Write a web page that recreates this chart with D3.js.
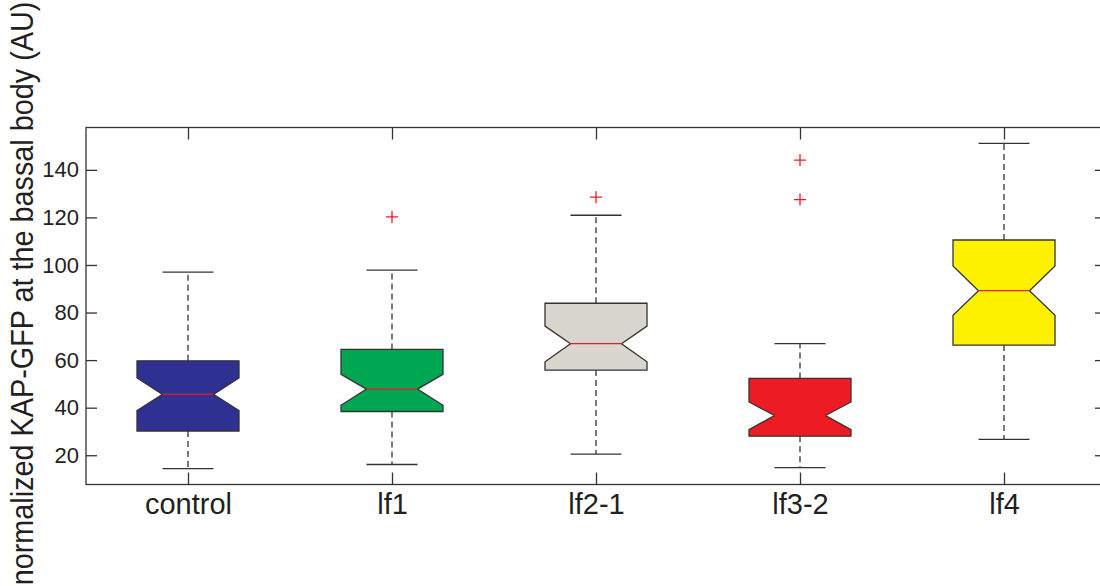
<!DOCTYPE html>
<html><head><meta charset="utf-8">
<script src="https://cdn.jsdelivr.net/npm/d3@7/dist/d3.min.js"></script>
<style>body{margin:0;background:#fff}svg{display:block}text{font-family:"Liberation Sans",Arial,sans-serif;fill:#231f20}</style>
</head><body><svg id="c" width="1100" height="586"></svg>
<script>
const categories = ["control","lf1","lf2-1","lf3-2","lf4"];
const colors = ["#2e3192","#00a651","#d8d6cf","#ed1c24","#fff200"];
const whiskerLow = [14.4,16.1,20.5,14.8,26.7];
const q1 = [30.2,38.4,55.8,28.0,66.3];
const median = [45.6,47.8,66.9,36.7,89.2];
const q3 = [59.7,64.5,83.9,52.3,110.5];
const whiskerHigh = [97.0,97.8,120.9,66.9,151.1];
const notchLow = [38.8,41.0,59.3,30.8,78.9];
const notchHigh = [52.5,54.0,74.3,42.4,99.6];
const outliers = [[],[120.2],[128.5],[127.5,144.1],[]];
const yTicks = [20,40,60,80,100,120,140];

const svg = d3.select("#c");
const L=86, R=1106, T=127.5, B=484.5;
const x = d3.scalePoint().domain(categories).range([L,R]).padding(0.5);
const step = x.step();
const y = d3.scaleLinear().domain([7.7,157.8]).range([B,T]);
const ink = "#333";

const g = svg.append("g");
const data = categories.map((c,i)=>({c,i}));
const bw = step*0.25, nw = step*0.125, cw = step*0.125;

data.forEach(({c,i})=>{
  const cx = x(c);
  g.append("line").attr("x1",cx).attr("x2",cx).attr("y1",y(q3[i])).attr("y2",y(whiskerHigh[i]))
    .attr("stroke",ink).attr("stroke-width",1.3).attr("stroke-dasharray","6,4");
  g.append("line").attr("x1",cx).attr("x2",cx).attr("y1",y(q1[i])).attr("y2",y(whiskerLow[i]))
    .attr("stroke",ink).attr("stroke-width",1.3).attr("stroke-dasharray","6,4");
  [whiskerHigh[i],whiskerLow[i]].forEach(v=>{
    g.append("line").attr("x1",cx-cw).attr("x2",cx+cw).attr("y1",y(v)).attr("y2",y(v))
      .attr("stroke",ink).attr("stroke-width",1.3);
  });
  const pts = [
    [cx-bw,y(q3[i])],[cx+bw,y(q3[i])],[cx+bw,y(Math.min(notchHigh[i],q3[i]))],
    [cx+nw,y(median[i])],[cx+bw,y(Math.max(notchLow[i],q1[i]))],[cx+bw,y(q1[i])],
    [cx-bw,y(q1[i])],[cx-bw,y(Math.max(notchLow[i],q1[i]))],[cx-nw,y(median[i])],
    [cx-bw,y(Math.min(notchHigh[i],q3[i]))]
  ];
  g.append("path").attr("d",d3.line()(pts)+"Z").attr("fill",colors[i]).attr("stroke",ink).attr("stroke-width",1.3);
  g.append("line").attr("x1",cx-nw).attr("x2",cx+nw).attr("y1",y(median[i])).attr("y2",y(median[i]))
    .attr("stroke","#ed1c24").attr("stroke-width",1.3);
  outliers[i].forEach(v=>{
    g.append("path").attr("d",`M${cx-6},${y(v)}H${cx+6}M${cx},${y(v)-6}V${y(v)+6}`)
      .attr("stroke","#ed1c24").attr("stroke-width",1.3);
  });
});

svg.append("rect").attr("x",L).attr("y",T).attr("width",R-L).attr("height",B-T)
  .attr("fill","none").attr("stroke",ink).attr("stroke-width",1.3);
const yl = svg.append("g").attr("transform",`translate(${L},0)`)
  .call(d3.axisLeft(y).tickValues(yTicks).tickSize(-11).tickPadding(9));
yl.select(".domain").remove();
yl.selectAll("line").attr("stroke",ink).attr("stroke-width",1.3);
yl.selectAll("text").attr("font-size",22).attr("fill","#231f20").attr("font-family","Liberation Sans, Arial, sans-serif").attr("dx",2);
const yr = svg.append("g").attr("transform",`translate(${R},0)`)
  .call(d3.axisRight(y).tickValues(yTicks).tickSize(-11).tickFormat(""));
yr.select(".domain").remove();
yr.selectAll("line").attr("stroke",ink).attr("stroke-width",1.3);
const xb = svg.append("g").attr("transform",`translate(0,${B})`)
  .call(d3.axisBottom(x).tickSize(-12));
xb.select(".domain").remove();
xb.selectAll("line").attr("stroke",ink).attr("stroke-width",1.3);
xb.selectAll("text").attr("font-size",29).attr("fill","#231f20").attr("font-family","Liberation Sans, Arial, sans-serif")
  .attr("y",29.5).attr("dy",0);
const xt = svg.append("g").attr("transform",`translate(0,${T})`)
  .call(d3.axisTop(x).tickSize(-12).tickFormat(""));
xt.select(".domain").remove();
xt.selectAll("line").attr("stroke",ink).attr("stroke-width",1.3);

svg.append("text").attr("transform","translate(33,293.5) rotate(-90) scale(0.9,1)").attr("text-anchor","middle")
  .attr("font-size",32).text("normalized KAP-GFP at the bassal body (AU)");
</script></body></html>
